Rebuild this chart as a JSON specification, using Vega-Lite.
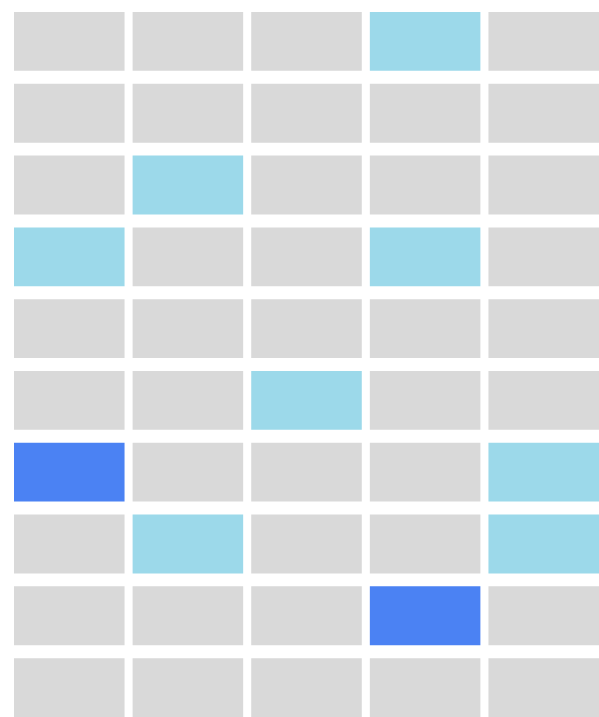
{
  "$schema": "https://vega.github.io/schema/vega-lite/v6.json",
  "autosize": {"type": "none"},
  "padding": {"left": 14, "top": 12, "right": 0, "bottom": 0},
  "width": 585,
  "height": 705,
  "background": "white",
  "config": {"view": {"stroke": null}},
  "data": {"values": [
    {"row": 1, "col": 1, "level": "none"}, {"row": 1, "col": 2, "level": "none"}, {"row": 1, "col": 3, "level": "none"}, {"row": 1, "col": 4, "level": "low"}, {"row": 1, "col": 5, "level": "none"},
    {"row": 2, "col": 1, "level": "none"}, {"row": 2, "col": 2, "level": "none"}, {"row": 2, "col": 3, "level": "none"}, {"row": 2, "col": 4, "level": "none"}, {"row": 2, "col": 5, "level": "none"},
    {"row": 3, "col": 1, "level": "none"}, {"row": 3, "col": 2, "level": "low"}, {"row": 3, "col": 3, "level": "none"}, {"row": 3, "col": 4, "level": "none"}, {"row": 3, "col": 5, "level": "none"},
    {"row": 4, "col": 1, "level": "low"}, {"row": 4, "col": 2, "level": "none"}, {"row": 4, "col": 3, "level": "none"}, {"row": 4, "col": 4, "level": "low"}, {"row": 4, "col": 5, "level": "none"},
    {"row": 5, "col": 1, "level": "none"}, {"row": 5, "col": 2, "level": "none"}, {"row": 5, "col": 3, "level": "none"}, {"row": 5, "col": 4, "level": "none"}, {"row": 5, "col": 5, "level": "none"},
    {"row": 6, "col": 1, "level": "none"}, {"row": 6, "col": 2, "level": "none"}, {"row": 6, "col": 3, "level": "low"}, {"row": 6, "col": 4, "level": "none"}, {"row": 6, "col": 5, "level": "none"},
    {"row": 7, "col": 1, "level": "high"}, {"row": 7, "col": 2, "level": "none"}, {"row": 7, "col": 3, "level": "none"}, {"row": 7, "col": 4, "level": "none"}, {"row": 7, "col": 5, "level": "low"},
    {"row": 8, "col": 1, "level": "none"}, {"row": 8, "col": 2, "level": "low"}, {"row": 8, "col": 3, "level": "none"}, {"row": 8, "col": 4, "level": "none"}, {"row": 8, "col": 5, "level": "low"},
    {"row": 9, "col": 1, "level": "none"}, {"row": 9, "col": 2, "level": "none"}, {"row": 9, "col": 3, "level": "none"}, {"row": 9, "col": 4, "level": "high"}, {"row": 9, "col": 5, "level": "none"},
    {"row": 10, "col": 1, "level": "none"}, {"row": 10, "col": 2, "level": "none"}, {"row": 10, "col": 3, "level": "none"}, {"row": 10, "col": 4, "level": "none"}, {"row": 10, "col": 5, "level": "none"}
  ]},
  "mark": {"type": "rect"},
  "encoding": {
    "x": {"field": "col", "type": "ordinal", "axis": null, "scale": {"paddingInner": 0.068, "paddingOuter": 0}},
    "y": {"field": "row", "type": "ordinal", "axis": null, "scale": {"paddingInner": 0.18, "paddingOuter": 0}},
    "color": {"field": "level", "type": "nominal", "legend": null,
      "scale": {"domain": ["none", "low", "high"], "range": ["#d9d9d9", "#9cd9ea", "#4b82f3"]}}
  }
}
